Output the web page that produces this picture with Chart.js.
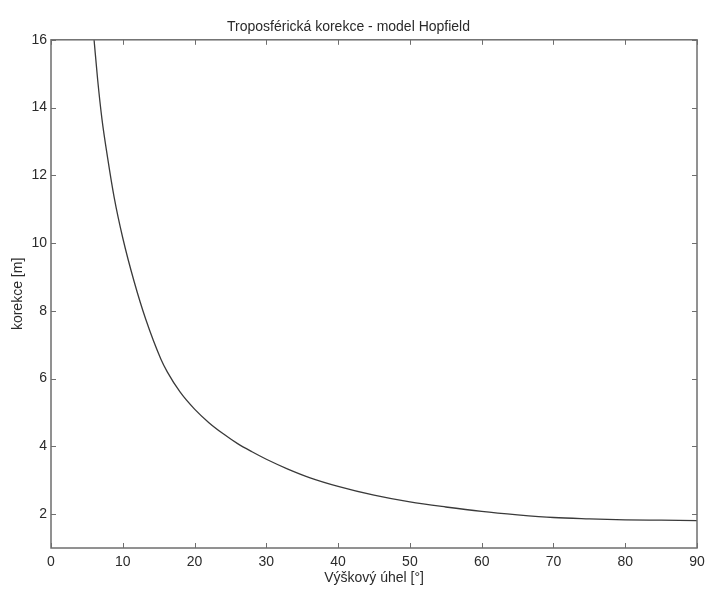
<!DOCTYPE html>
<html>
<head>
<meta charset="utf-8">
<script src="https://cdn.jsdelivr.net/npm/chart.js@4/dist/chart.umd.min.js"></script>
<style>
html,body{margin:0;padding:0;background:#fff;}
#wrap{width:707px;height:590px;position:relative;}
</style>
</head>
<body>
<div id="wrap"><canvas id="c" width="707" height="590"></canvas></div>
<script>
const chartTitle = "Troposférická korekce - model Hopfield";
const xTitle = "Výškový úhel [°]";
const yTitle = "korekce [m]";
const elevation = [6.0, 6.5, 7.1, 7.9, 8.8, 10.0, 11.6, 13.2, 15.3, 16.2, 18, 20, 22, 24, 26, 28, 30, 33, 36, 40, 45, 50, 55, 60, 65, 70, 75, 80, 85, 90];
const correction = [16.0, 14.82, 13.66, 12.5, 11.35, 10.15, 8.85, 7.75, 6.58, 6.2, 5.6, 5.1, 4.7, 4.37, 4.08, 3.84, 3.62, 3.33, 3.08, 2.82, 2.56, 2.36, 2.21, 2.08, 1.98, 1.9, 1.86, 1.83, 1.82, 1.81];
const xTicks = [0, 10, 20, 30, 40, 50, 60, 70, 80, 90];
const yTicks = [2, 4, 6, 8, 10, 12, 14, 16];

const points = elevation.map((e, i) => ({x: e, y: correction[i]}));
const axisColor = '#6e6e6e';
const textColor = '#2a2a2a';
const fam = 'Liberation Sans, Arial, sans-serif';

const boxPlugin = {
  id: 'box',
  afterDraw(chart) {
    const ctx = chart.ctx, a = chart.chartArea;
    const xs = chart.scales.x, ys = chart.scales.y;
    ctx.save();
    ctx.strokeStyle = axisColor;
    ctx.lineWidth = 1.5;
    ctx.strokeRect(a.left, a.top, a.right - a.left, a.bottom - a.top);
    ctx.lineWidth = 1;
    const tl = 5;
    xTicks.forEach(v => {
      const px = Math.round(xs.getPixelForValue(v)) + 0.5;
      ctx.beginPath();
      ctx.moveTo(px, a.bottom); ctx.lineTo(px, a.bottom - tl);
      ctx.moveTo(px, a.top); ctx.lineTo(px, a.top + tl);
      ctx.stroke();
    });
    yTicks.forEach(v => {
      const py = Math.round(ys.getPixelForValue(v)) + 0.5;
      ctx.beginPath();
      ctx.moveTo(a.left, py); ctx.lineTo(a.left + tl, py);
      ctx.moveTo(a.right, py); ctx.lineTo(a.right - tl, py);
      ctx.stroke();
    });
    ctx.restore();
  }
};

new Chart(document.getElementById('c'), {
  type: 'line',
  data: {
    datasets: [{
      data: points,
      borderColor: '#3a3a3a',
      borderWidth: 1.3,
      pointRadius: 0,
      cubicInterpolationMode: 'monotone',
      fill: false
    }]
  },
  options: {
    responsive: false,
    animation: false,
    devicePixelRatio: 1,
    layout: {padding: {left: 0, right: 10, top: 0, bottom: 0}},
    plugins: {
      legend: {display: false},
      tooltip: {enabled: false},
      title: {
        display: true,
        text: chartTitle,
        color: textColor,
        font: {family: fam, size: 14, weight: 'normal'},
        padding: {top: 19, bottom: 4}
      }
    },
    scales: {
      x: {
        type: 'linear',
        min: 0, max: 90,
        afterBuildTicks: s => { s.ticks = xTicks.map(v => ({value: v})); },
        afterFit: s => { s.height = 42; s.paddingLeft = 0; s.paddingRight = 0; },
        grid: {display: false, drawTicks: false},
        border: {display: false},
        ticks: {color: textColor, font: {family: fam, size: 14}, padding: 6, maxRotation: 0, autoSkip: false},
        title: {display: true, text: xTitle, color: textColor, font: {family: fam, size: 14}, padding: {top: 0, bottom: 3}}
      },
      y: {
        type: 'linear',
        min: 1, max: 16,
        afterBuildTicks: s => { s.ticks = yTicks.map(v => ({value: v})); },
        afterFit: s => { s.width = 51; },
        grid: {display: false, drawTicks: false},
        border: {display: false},
        ticks: {color: textColor, font: {family: fam, size: 14}, padding: 4, autoSkip: false},
        title: {display: true, text: yTitle, color: textColor, font: {family: fam, size: 14}, padding: {top: 10, bottom: 0}}
      }
    }
  },
  plugins: [boxPlugin]
});
</script>
</body>
</html>
